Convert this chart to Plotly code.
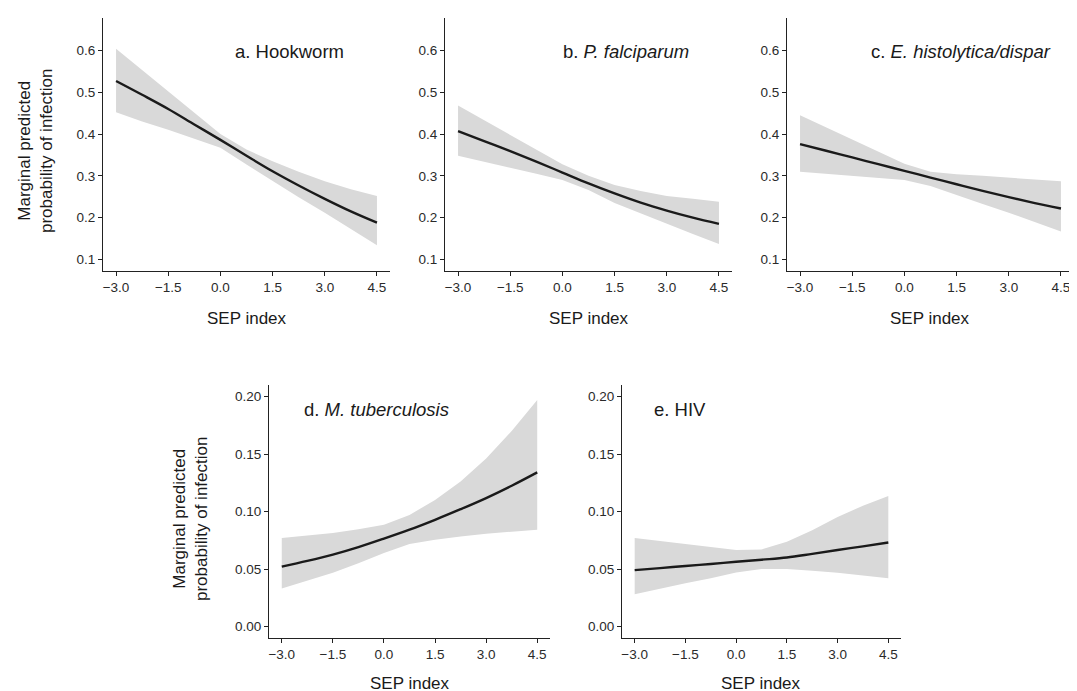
import plotly.graph_objects as go

# SEP index grid that the margins were read at
sep = [-3.0, -2.25, -1.5, -0.75, 0.0, 0.75, 1.5, 2.25, 3.0, 3.75, 4.5]

# a. Hookworm
hook_fit = [0.527, 0.494, 0.460, 0.423, 0.386, 0.348, 0.311, 0.277, 0.245, 0.215, 0.188]
hook_hi = [0.604, 0.553, 0.503, 0.451, 0.400, 0.363, 0.335, 0.310, 0.287, 0.268, 0.252]
hook_lo = [0.452, 0.430, 0.410, 0.388, 0.367, 0.327, 0.287, 0.249, 0.212, 0.172, 0.134]

# b. P. falciparum
pf_fit = [0.407, 0.383, 0.359, 0.334, 0.308, 0.282, 0.258, 0.236, 0.217, 0.200, 0.185]
pf_hi = [0.468, 0.433, 0.398, 0.363, 0.328, 0.300, 0.278, 0.264, 0.252, 0.245, 0.238]
pf_lo = [0.348, 0.334, 0.320, 0.305, 0.290, 0.266, 0.235, 0.210, 0.185, 0.161, 0.137]

# c. E. histolytica/dispar
eh_fit = [0.376, 0.360, 0.344, 0.328, 0.312, 0.296, 0.280, 0.264, 0.249, 0.235, 0.222]
eh_hi = [0.445, 0.416, 0.387, 0.358, 0.329, 0.310, 0.304, 0.300, 0.296, 0.291, 0.287]
eh_lo = [0.310, 0.305, 0.300, 0.295, 0.290, 0.276, 0.254, 0.233, 0.212, 0.190, 0.167]

# d. M. tuberculosis
tb_fit = [0.052, 0.057, 0.0625, 0.069, 0.0764, 0.0842, 0.0928, 0.102, 0.1117, 0.1224, 0.134]
tb_hi = [0.0769, 0.079, 0.0813, 0.0845, 0.0885, 0.097, 0.110, 0.126, 0.146, 0.170, 0.197]
tb_lo = [0.033, 0.040, 0.0467, 0.055, 0.064, 0.0718, 0.0755, 0.0782, 0.0807, 0.0825, 0.0841]

# e. HIV
hiv_fit = [0.049, 0.0508, 0.0526, 0.0544, 0.0563, 0.0581, 0.060, 0.0632, 0.0665, 0.0697, 0.073]
hiv_hi = [0.077, 0.0745, 0.072, 0.069, 0.0665, 0.067, 0.0737, 0.0838, 0.0953, 0.105, 0.1135]
hiv_lo = [0.028, 0.033, 0.0376, 0.042, 0.047, 0.050, 0.050, 0.0484, 0.0468, 0.0444, 0.042]

x_ticks = [-3.0, -1.5, 0.0, 1.5, 3.0, 4.5]
x_tick_labels = ["\u22123.0", "\u22121.5", "0.0", "1.5", "3.0", "4.5"]
y_ticks_top = [0.1, 0.2, 0.3, 0.4, 0.5, 0.6]
y_ticks_bottom = [0.00, 0.05, 0.10, 0.15, 0.20]

titles = ["a. Hookworm", "b. <i>P. falciparum</i>", "c. <i>E. histolytica/dispar</i>",
          "d. <i>M. tuberculosis</i>", "e. HIV"]

W, H = 1077, 691
FONT = "Liberation Sans, Arial, Helvetica, sans-serif"

panels = [
    (hook_fit, hook_hi, hook_lo),
    (pf_fit, pf_hi, pf_lo),
    (eh_fit, eh_hi, eh_lo),
    (tb_fit, tb_hi, tb_lo),
    (hiv_fit, hiv_hi, hiv_lo),
]

# plot areas in pixels: (left, right, top, bottom)
boxes = [
    (95, 382, 10, 263),
    (437, 724, 10, 263),
    (779, 1066, 10, 263),
    (261, 542, 377, 630),
    (614, 893, 377, 630),
]
# panel label centres in pixels
title_pos = [(281, 43), (618, 43), (953, 43), (368, 402), (672, 402)]

fig = go.Figure()
layout = dict(
    width=W, height=H,
    margin=dict(l=0, r=0, t=0, b=0),
    paper_bgcolor="white", plot_bgcolor="white",
    showlegend=False,
    font=dict(family=FONT, size=13, color="#333333"),
)
annotations = []

for i, ((fit, hi, lo), (l, r, t, b)) in enumerate(zip(panels, boxes)):
    n = i + 1
    xa = "x" if n == 1 else f"x{n}"
    ya = "y" if n == 1 else f"y{n}"
    fig.add_trace(go.Scatter(x=sep, y=lo, xaxis=xa, yaxis=ya, mode="lines",
                             line=dict(width=0, color="#d9d9d9"), hoverinfo="skip"))
    fig.add_trace(go.Scatter(x=sep, y=hi, xaxis=xa, yaxis=ya, mode="lines",
                             line=dict(width=0, color="#d9d9d9"), fill="tonexty",
                             fillcolor="#d9d9d9", hoverinfo="skip"))
    fig.add_trace(go.Scatter(x=sep, y=fit, xaxis=xa, yaxis=ya, mode="lines",
                             line=dict(width=2.4, color="#1a1a1a", shape="spline", smoothing=1.0)))

    top_row = i < 3
    axis_common = dict(showgrid=False, zeroline=False, showline=True, linecolor="#222222",
                       linewidth=1.2, ticks="outside", ticklen=4, tickcolor="#222222",
                       tickwidth=1.1, tickfont=dict(family=FONT, size=13.5, color="#2a2a2a"))
    layout["xaxis" if n == 1 else f"xaxis{n}"] = dict(
        domain=[l / W, r / W], anchor=ya, range=[-3.375, 4.875],
        tickvals=x_ticks, ticktext=x_tick_labels, **axis_common)
    if top_row:
        yextra = dict(range=[0.0725, 0.6775], tickvals=y_ticks_top, tickformat=".1f")
    else:
        yextra = dict(range=[-0.01, 0.21], tickvals=y_ticks_bottom, tickformat=".2f")
    layout["yaxis" if n == 1 else f"yaxis{n}"] = dict(
        domain=[1 - b / H, 1 - t / H], anchor=xa, **yextra, **axis_common)

    # x axis title
    annotations.append(dict(text="SEP index", x=(l + r) / 2 / W,
                            y=1 - (b + (47 if top_row else 45)) / H,
                            xref="paper", yref="paper", showarrow=False,
                            xanchor="center", yanchor="middle",
                            font=dict(family=FONT, size=17, color="#1a1a1a")))
    # panel label
    tx, ty = title_pos[i]
    annotations.append(dict(text=titles[i], x=tx / W, y=1 - ty / H,
                            xref="paper", yref="paper", showarrow=False,
                            xanchor="center", yanchor="middle",
                            font=dict(family=FONT, size=18.5, color="#1a1a1a")))

# y axis titles (only on left panels)
for px, py in [(27, 143), (182, 511)]:
    annotations.append(dict(text="Marginal predicted<br>probability of infection",
                            x=px / W, y=1 - py / H, xref="paper", yref="paper",
                            showarrow=False, textangle=-90,
                            xanchor="center", yanchor="middle",
                            font=dict(family=FONT, size=17, color="#1a1a1a")))

layout["annotations"] = annotations
fig.update_layout(**layout)

fig.write_html("out.html")
